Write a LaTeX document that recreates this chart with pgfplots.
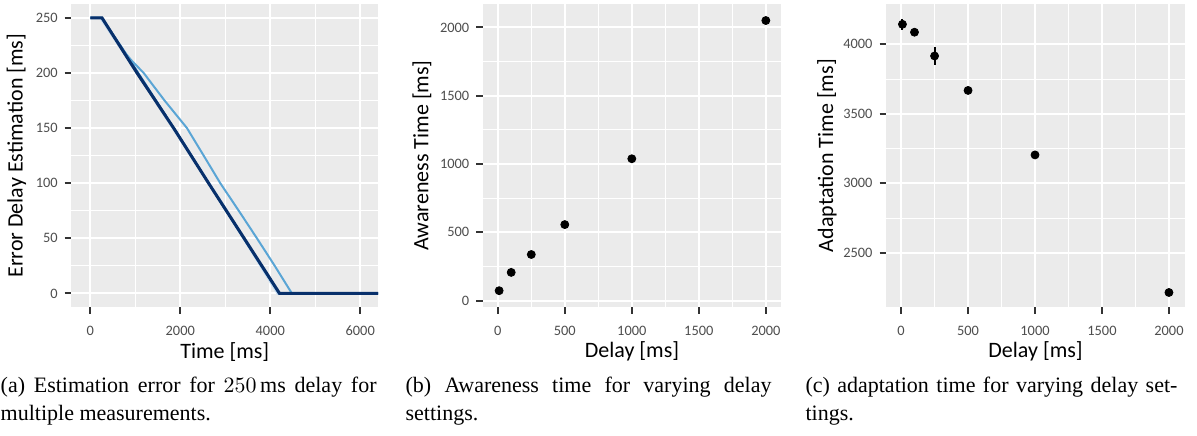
\documentclass[border=0pt]{standalone}
\usepackage{fontspec}
\setmainfont{Liberation Serif}
\newfontfamily\ggfont{Carlito}
\usepackage{pgfplots}
\pgfplotsset{compat=1.18}

\definecolor{panel}{HTML}{EBEBEB}
\definecolor{tickcol}{HTML}{333333}
\definecolor{ticktxt}{HTML}{4D4D4D}
\definecolor{blue1}{HTML}{08306B}
\definecolor{blue2}{HTML}{5AA5D5}
\definecolor{blue3}{HTML}{C6DBEF}
\definecolor{blue4}{HTML}{2171B5}

\pgfplotsset{
  gg/.style={
    scale only axis, anchor=south west,
    axis background/.style={fill=panel},
    axis line style={draw=none},
    grid=both,
    major grid style={white, line width=1pt},
    minor grid style={white, line width=0.5pt},
    minor tick num=1, minor tick length=0pt,
    tick align=outside, major tick length=3.3pt,
    major tick style={tickcol, line width=1pt},
    tick pos=left,
    scaled ticks=false,
    /pgf/number format/1000 sep={},
    /pgf/number format/assume math mode=true,
    ticklabel style={font=\ggfont\fontsize{7.2}{8}\selectfont, text=ticktxt},
    xticklabel style={yshift=-2.5pt},
    label style={font=\ggfont\fontsize{11}{12}\selectfont},
    xlabel style={at={(axis description cs:0.5,0)}, anchor=center, yshift=-22.3pt},
    width=153.5pt, height=151.65pt,
  },
  dots/.style={only marks, mark=*, mark size=2pt, black},
}

\newcommand\capfont{\fontsize{11}{14.2}\selectfont}

\begin{document}
\begin{tikzpicture}
\path (0,0) rectangle (598.5pt,218pt);

% (a) estimation error
\begin{axis}[gg, at={(35.5pt,64.35pt)},
  xmin=-422, xmax=6400, ymin=-12.5, ymax=262.5,
  xtick={0,2000,4000,6000}, ytick={0,50,...,250},
  xlabel={Time [ms]}, ylabel={Error Delay Estimation [ms]},
  ylabel style={at={(axis description cs:-0.179,0.5)}, anchor=center}]
\addplot[blue3, line width=1.4pt] coordinates {
(0,250) (230,250) (1000,203) (2000,140) (3000,77) (4170,0) (6400,0)};
\addplot[blue4, line width=1pt] coordinates {
(0,250) (250,250) (700,223) (1000,204) (2000,141) (3000,76) (4195,0) (6400,0)};
\addplot[blue2, line width=1pt] coordinates {
(0,250) (260,250) (700,222) (900,212) (1185,200) (1650,175) (2148,150)
(2520,125) (2889,100) (3300,75) (3704,50) (4100,25) (4481,0) (6400,0)};
\addplot[blue1, line width=1.5pt] coordinates {
(0,250) (259,250) (1037,200) (1852,150) (2629,100) (3420,50) (4207,0) (6400,0)};
\end{axis}

% (b) awareness time
\begin{axis}[gg, at={(241.35pt,64.35pt)}, width=149.15pt,
  xmin=-111, xmax=2114, ymin=-48, ymax=2172,
  xtick={0,500,...,2000}, ytick={0,500,...,2000},
  xlabel={Delay [ms]}, ylabel={Awareness Time [ms]},
  ylabel style={at={(axis description cs:-0.2045,0.5)}, anchor=center}]
\addplot[dots] coordinates {
(10,73) (100,207) (250,338) (500,557) (1000,1039) (2000,2051)};
\end{axis}

% (c) adaptation time
\begin{axis}[gg, at={(443pt,64.35pt)}, width=149.5pt,
  xmin=-112, xmax=2120, ymin=2108, ymax=4290,
  xtick={0,500,...,2000}, ytick={2500,3000,3500,4000},
  xlabel={Delay [ms]}, ylabel={Adaptation Time [ms]},
  ylabel style={at={(axis description cs:-0.198,0.5)}, anchor=center}]
\addplot[dots, error bars/.cd, y dir=both, y explicit, error mark=none,
  error bar style={line width=1pt}] coordinates {
(10,4144) +- (0,40)
(100,4087) +- (0,15)
(250,3916) +- (0,65)
(500,3668) +- (0,10)
(1000,3204) +- (0,10)
(2000,2214) +- (0,10)};
\end{axis}

% captions
\node[anchor=base west, inner sep=0pt] at (0pt,21.85pt)
  {\parbox[t]{188pt}{\capfont (a) Estimation error for $250\,\mathrm{ms}$ delay for multiple measurements.}};
\node[anchor=base west, inner sep=0pt] at (202.5pt,21.85pt)
  {\parbox[t]{183pt}{\capfont (b) Awareness time for varying delay \mbox{settings.}}};
\node[anchor=base west, inner sep=0pt] at (402.5pt,21.85pt)
  {\parbox[t]{186pt}{\capfont (c) adaptation time for varying delay settings.}};
\end{tikzpicture}
\end{document}
